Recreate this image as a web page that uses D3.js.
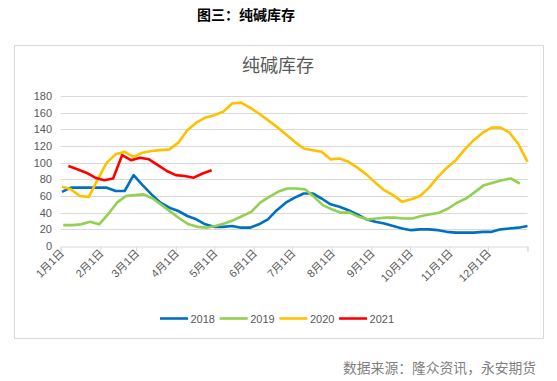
<!DOCTYPE html>
<html>
<head>
<meta charset="utf-8">
<script src="https://cdn.jsdelivr.net/npm/d3@7"></script>
<style>
  body { margin: 0; background: #fff; }
  text { font-family: "Liberation Sans", Arial, "Noto Sans CJK SC", sans-serif; }
</style>
</head>
<body>
<script>
'use strict';

// weekly soda ash inventory (万吨), one value per week from the first week of each year
let years = ['2018', '2019', '2020', '2021'];
let colors = ['#0070c0', '#92d050', '#ffc000', '#ff0000'];
// day of year of the first weekly reading, per series
let firstDay = [1, 2, 1, 6];

let v2018 = [65, 70, 70, 70, 70, 70, 66, 66, 85, 73, 62, 52, 46, 42, 36, 32, 26, 23, 23, 24,
  22, 22, 26, 32, 43, 52, 58, 63, 63, 57, 50, 47, 43, 38, 32, 29, 27, 24, 21, 19,
  20, 20, 19, 17, 16, 16, 16, 17, 17, 20, 21, 22, 24];
let v2019 = [25, 25, 26, 29, 26, 38, 52, 60, 61, 62, 57, 49, 41, 33, 26, 23, 22, 24, 27, 31,
  36, 41, 52, 59, 65, 69, 69, 68, 59, 49, 44, 40, 40, 35, 32, 33, 34, 34, 33, 33,
  36, 38, 40, 45, 52, 57, 65, 73, 76, 79, 81, 75];
let v2020 = [71, 68, 60, 59, 80, 100, 110, 113, 107, 112, 114, 115, 116, 124, 139, 148, 154, 157, 161, 171,
  172, 166, 159, 151, 143, 134, 125, 117, 115, 113, 104, 105, 101, 94, 86, 76, 67, 61, 53, 56,
  60, 70, 83, 94, 103, 116, 127, 136, 142, 142, 136, 122, 101];
let v2021 = [96, 92, 88, 82, 79, 81, 109, 103, 106, 104, 97, 90, 85, 84, 82, 87, 91];
let seriesValues = [v2018, v2019, v2020, v2021];

let yTicks = [0, 20, 40, 60, 80, 100, 120, 140, 160, 180];
let monthLabels = ['1月1日', '2月1日', '3月1日', '4月1日', '5月1日', '6月1日',
  '7月1日', '8月1日', '9月1日', '10月1日', '11月1日', '12月1日'];

let width = 557;
let height = 381;

let svg = d3.select('body').append('svg')
  .attr('width', width)
  .attr('height', height);

svg.append('text')
  .attr('x', 246).attr('y', 20)
  .attr('text-anchor', 'middle')
  .attr('font-size', 14).attr('font-weight', 'bold')
  .attr('fill', '#000')
  .text('图三：纯碱库存');

svg.append('rect')
  .attr('x', 14.5).attr('y', 45.5)
  .attr('width', 529).attr('height', 293)
  .attr('fill', '#fff')
  .attr('stroke', '#d9d9d9').attr('stroke-width', 1);

svg.append('text')
  .attr('x', 278).attr('y', 72)
  .attr('text-anchor', 'middle')
  .attr('font-size', 18)
  .attr('fill', '#595959')
  .text('纯碱库存');

let base = new Date(2019, 0, 1);
let x = d3.scaleTime()
  .domain([base, new Date(2020, 0, 1)])
  .range([60.7, 527.5]);
let y = d3.scaleLinear()
  .domain([0, 180])
  .range([246, 96]);

// gridlines
svg.append('g')
  .selectAll('line')
  .data(yTicks.slice(1))
  .enter().append('line')
    .attr('x1', 60.7).attr('x2', 527.5)
    .attr('y1', d => Math.round(y(d)) + 0.5)
    .attr('y2', d => Math.round(y(d)) + 0.5)
    .attr('stroke', '#d9d9d9').attr('stroke-width', 1);

// y axis labels
svg.append('g')
  .selectAll('text')
  .data(yTicks)
  .enter().append('text')
    .attr('x', 52).attr('y', d => y(d) + 4)
    .attr('text-anchor', 'end')
    .attr('font-size', 11)
    .attr('fill', '#595959')
    .text(d => d);

// x axis
let monthStarts = d3.timeMonth.range(base, new Date(2020, 0, 2));
let xAxis = svg.append('g')
  .attr('transform', 'translate(0,' + (Math.round(y(0)) + 0.5) + ')')
  .call(d3.axisBottom(x).tickValues(monthStarts).tickSize(5).tickFormat(''));
xAxis.select('.domain').attr('stroke', '#d9d9d9');
xAxis.selectAll('.tick line').attr('stroke', '#d9d9d9');

svg.append('g')
  .selectAll('text')
  .data(monthStarts.slice(0, 12))
  .enter().append('text')
    .attr('transform', (d, i) => 'translate(' + (x(d) + 4) + ',254) rotate(-45)')
    .attr('text-anchor', 'end')
    .attr('font-size', 11)
    .attr('fill', '#595959')
    .text((d, i) => monthLabels[i]);

// series lines
let line = d3.line()
  .x(d => x(d.date))
  .y(d => y(d.value));

seriesValues.forEach((vals, s) => {
  let pts = vals.map((v, i) => ({
    date: d3.timeDay.offset(base, firstDay[s] + 7 * i),
    value: v
  }));
  svg.append('path')
    .datum(pts)
    .attr('fill', 'none')
    .attr('stroke', colors[s])
    .attr('stroke-width', 2.6)
    .attr('stroke-linejoin', 'round')
    .attr('d', line);
});

// legend
let legend = svg.append('g')
  .selectAll('g')
  .data(years)
  .enter().append('g')
    .attr('transform', (d, i) => 'translate(' + (160 + i * 59.7) + ',318.5)');
legend.append('line')
  .attr('x1', 0).attr('x2', 28)
  .attr('stroke', (d, i) => colors[i])
  .attr('stroke-width', 2.6);
legend.append('text')
  .attr('x', 30.5).attr('y', 4)
  .attr('font-size', 11)
  .attr('fill', '#595959')
  .text(d => d);

svg.append('text')
  .attr('x', 343).attr('y', 373)
  .attr('font-size', 13.8)
  .attr('fill', '#7f7f7f')
  .text('数据来源：隆众资讯，永安期货');
</script>
</body>
</html>
